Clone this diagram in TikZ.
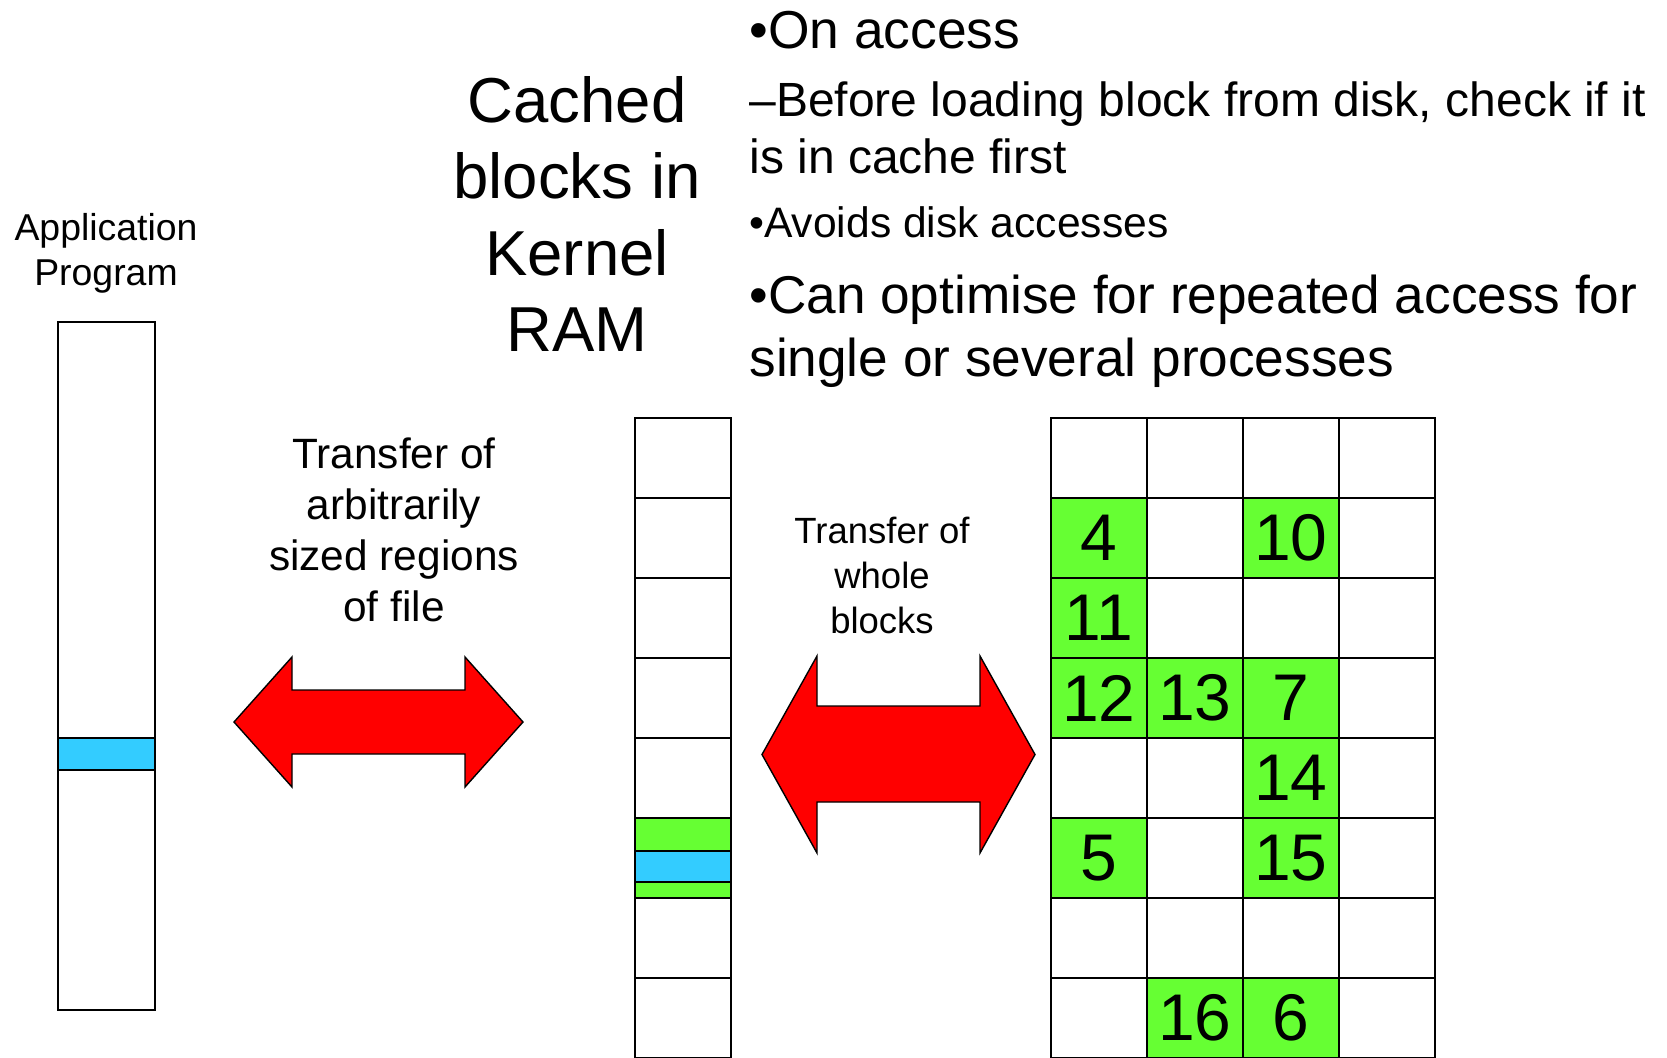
\documentclass[tikz,border=0pt]{standalone}
\usepackage{fontspec}
\setmainfont{Liberation Sans}
\definecolor{blockgreen}{HTML}{66FF33}
\definecolor{bandblue}{HTML}{33CCFF}

\begin{document}
\begin{tikzpicture}[x=0.5pt,y=-0.5pt,
  blockcell/.style={draw,line width=1.1pt,minimum width=48.05pt,minimum height=40pt,inner sep=0pt,font=\fontsize{33}{40}\selectfont},
  ramcell/.style={draw,line width=1.1pt,minimum width=48.15pt,minimum height=40pt,inner sep=0pt},
  band/.style={draw,line width=0.8pt,fill=bandblue,minimum width=48.15pt,inner sep=0pt},
  bigarrow/.style={draw,line width=0.7pt,fill=red},
  bulletline/.style={anchor=base west,inner sep=0pt}]
  \useasboundingbox (0,0) rectangle (1667,1057);
  \clip (0,0) rectangle (1667,1057);
  \node[align=center,font=\fontsize{18.7}{22.4}\selectfont] (applbl) at (106,253) {Application\\Program};
  \node[draw,line width=1.1pt,minimum width=48.5pt,minimum height=344pt,inner sep=0pt] (app) at (106.5,666) {};
  \node[band,minimum width=48.5pt,minimum height=16pt] (appband) at (106.5,754) {};
  \node[align=center,font=\fontsize{31.75}{38.2}\selectfont] (ramlbl) at (577,214) {Cached\\blocks in\\Kernel\\RAM};
  \node[align=center,font=\fontsize{21.2}{25.5}\selectfont] (xferapp) at (394,530) {Transfer of\\arbitrarily\\sized regions\\of file};
  \node[align=center,font=\fontsize{18.25}{22.5}\selectfont] (xferdisk) at (882,575) {Transfer of\\whole\\blocks};
  \node[bulletline,font=\fontsize{26.7}{30}\selectfont] (onacc) at (749,48) {•On access};
  \node[bulletline,font=\fontsize{24}{30}\selectfont] (before) at (749,116) {–Before loading block from disk, check if it};
  \node[bulletline,font=\fontsize{24}{30}\selectfont] (incache) at (749,173) {is in cache first};
  \node[bulletline,font=\fontsize{21.3}{26}\selectfont] (avoids) at (749,237) {•Avoids disk accesses};
  \node[bulletline,font=\fontsize{26.6}{30}\selectfont] (optim) at (749,313) {•Can optimise for repeated access for};
  \node[bulletline,font=\fontsize{26.6}{30}\selectfont] (procs) at (749,376) {single or several processes};
  \foreach \r in {0,...,7}
    \node[ramcell] (m\r) at (682.85,{458+80*\r}) {};
  \node[ramcell,fill=blockgreen] (m5g) at (m5) {};
  \node[band,minimum height=15.5pt] (ramband) at (682.85,866.5) {};
  \foreach \r in {0,...,7}
    \foreach \c in {0,...,3}
      \node[blockcell] (d\r\c) at ({1098.75+96.1*\c},{458+80*\r}) {};
  \node[blockcell,fill=blockgreen] (b4) at (d10) {4};
  \node[blockcell,fill=blockgreen] (b10) at (d12) {10};
  \node[blockcell,fill=blockgreen] (b11) at (d20) {11};
  \node[blockcell,fill=blockgreen] (b12) at (d30) {12};
  \node[blockcell,fill=blockgreen] (b13) at (d31) {13};
  \node[blockcell,fill=blockgreen] (b7) at (d32) {7};
  \node[blockcell,fill=blockgreen] (b14) at (d42) {14};
  \node[blockcell,fill=blockgreen] (b5) at (d50) {5};
  \node[blockcell,fill=blockgreen] (b15) at (d52) {15};
  \node[blockcell,fill=blockgreen] (b16) at (d71) {16};
  \node[blockcell,fill=blockgreen] (b6) at (d72) {6};
  \filldraw[bigarrow] (234,722) -- (292,657) -- (292,690) -- (465,690) -- (465,657) -- (523,722)
    -- (465,787) -- (465,754) -- (292,754) -- (292,787) -- cycle;
  \filldraw[bigarrow] (762,754.5) -- (817,656) -- (817,706) -- (980,706) -- (980,656) -- (1035,754.5)
    -- (980,853) -- (980,802) -- (817,802) -- (817,853) -- cycle;
\end{tikzpicture}
\end{document}
